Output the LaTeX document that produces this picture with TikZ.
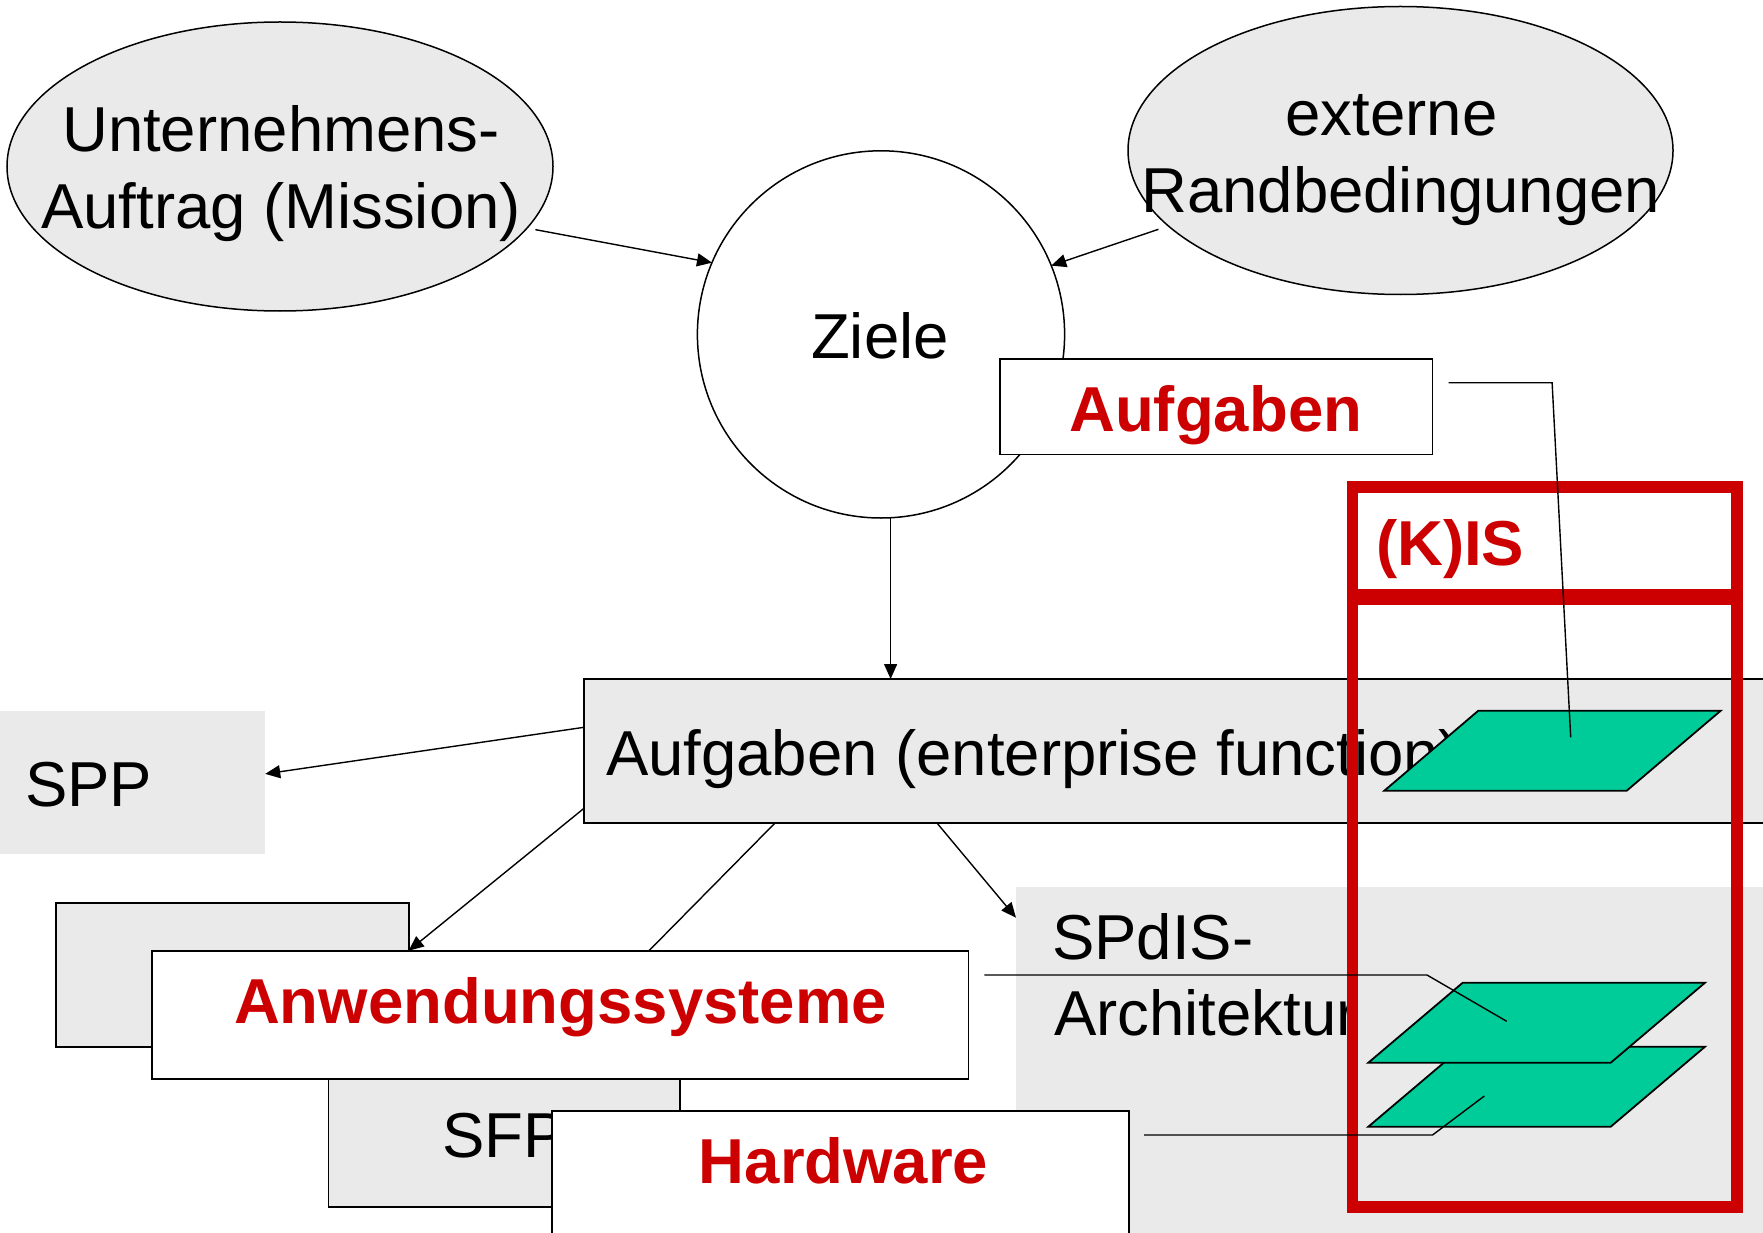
\documentclass[tikz,border=0pt]{standalone}
\usepackage{fontspec}
\setmainfont{Liberation Sans}
\usetikzlibrary{shapes.geometric,arrows.meta}
\definecolor{panelgray}{HTML}{EAEAEA}
\definecolor{kisred}{HTML}{CC0000}
\definecolor{layergreen}{HTML}{00CC99}

\begin{document}
\begin{tikzpicture}[x=1pt,y=-1pt,
  every node/.style={inner sep=0pt, outer sep=0pt},
  txt/.style={font=\fontsize{63.5}{76}\selectfont},
  hot/.style={font=\fontsize{63.5}{76}\selectfont\bfseries, text=kisred},
  bubble/.style={ellipse, draw, line width=1.5pt, fill=panelgray},
  goal/.style={circle, draw, line width=1.5pt, fill=white},
  plainbox/.style={rectangle, draw, line width=1.8pt, fill=white},
  graybox/.style={rectangle, draw, line width=1.8pt, fill=panelgray},
  grayarea/.style={rectangle, fill=panelgray},
  kisframe/.style={rectangle, draw=kisred, line width=11.7pt},
  layer/.style={draw, line width=1.8pt, fill=layergreen},
  arr/.style={line width=1.4pt, -{Triangle[length=15pt,width=13pt]}},
  linkline/.style={line width=1.4pt}
]
\useasboundingbox (0,0) rectangle (1763,1233);
\clip (0,0) rectangle (1763,1233);

% strategic planning box on the left
\node[grayarea, minimum width=275.2pt, minimum height=143.4pt] (spp) at (127.6,782.7) {};
\node[txt, anchor=base west] (sppT) at (25,806.4) {SPP};

% mission and external constraints
\node[bubble, minimum width=546pt, minimum height=289pt] (mission) at (280,166.5) {};
\node[txt, anchor=base] (missionA) at (281,152) {Unternehmens-};
\node[txt, anchor=base] (missionB) at (281,229) {Auftrag (Mission)};

\node[bubble, minimum width=545pt, minimum height=288pt] (extern) at (1400.5,150.5) {};
\node[txt, anchor=base] (externA) at (1391.5,136) {externe};
\node[txt, anchor=base] (externB) at (1400.8,212.5) {Randbedingungen};

% goals
\node[goal, minimum size=367.2pt] (ziele) at (881,334.4) {};
\node[txt, anchor=base] (zieleT) at (880,358.7) {Ziele};

\node[plainbox, minimum width=432.5pt, minimum height=95.8pt] (aufg) at (1216.25,406.6) {};
\node[hot, anchor=base] (aufgT) at (1215.7,431) {Aufgaben};

% enterprise functions
\node[graybox, minimum width=1216pt, minimum height=143.7pt] (funk) at (1192,750.85) {};
\node[txt, anchor=base west] (funkT) at (606,775) {Aufgaben (enterprise function)};

% architecture area
\node[grayarea, minimum width=784pt, minimum height=413.3pt] (spdis) at (1408,1093.35) {};
\node[txt, anchor=base west] (spdisA) at (1052,959) {SPdIS-};
\node[txt, anchor=base west] (spdisB) at (1054,1035) {Architektur};

% stacked system boxes
\node[graybox, minimum width=352.4pt, minimum height=144.3pt] (asback) at (232.5,974.85) {};
\node[graybox, minimum width=351.9pt, minimum height=144pt] (sfp) at (504.35,1135) {};
\node[txt, anchor=base west] (sfpT) at (442,1157.7) {SFP};
\node[plainbox, minimum width=816.2pt, minimum height=128.3pt] (anw) at (560.4,1014.85) {};
\node[hot, anchor=base] (anwT) at (560.5,1023.3) {Anwendungssysteme};
\node[plainbox, minimum width=576.8pt, minimum height=189.2pt] (hw) at (840.6,1205.4) {};
\node[hot, anchor=base] (hwT) at (843.6,1183) {Hardware};

% layers of the information system
\draw[layer] (1368.3,1126.7) -- (1462.7,1046.7) -- (1705,1046.7) -- (1610.7,1126.7) -- cycle;
\draw[layer] (1368.3,1062.7) -- (1462.7,982.7) -- (1705,982.7) -- (1610.7,1062.7) -- cycle;
\draw[layer] (1384.3,790.7) -- (1478.3,710.7) -- (1720.7,710.7) -- (1626.7,790.7) -- cycle;
\coordinate (topEnd) at (1570.7,737.3);
\coordinate (midEnd) at (1506.7,1021.3);
\coordinate (lowEnd) at (1484.3,1096);

% (K)IS frame
\node[kisframe, minimum width=384.2pt, minimum height=107.8pt] (kisHead) at (1544.6,540.7) {};
\node[kisframe, minimum width=384.2pt, minimum height=607.7pt] (kisBody) at (1544.6,902.85) {};
\node[hot, anchor=base west] (kisT) at (1376,565) {(K)IS};

% arrows
\draw[arr, shorten <=8.6pt] (mission.-14) -- (ziele.157.3);
\draw[arr, shorten <=10.5pt] (extern.198.4) -- (ziele.22.5);
\draw[arr] (ziele.-87.7) -- (ziele.-87.7 |- funk.north);
\draw[arr] ([yshift=23.55pt]funk.west) -- ([yshift=8.8pt]spp.east);
\draw[arr] ([yshift=-57.45pt]funk.west) -- (asback.east |- anw.north);
\draw[linkline] ([xshift=191.3pt]funk.south west) -- ([xshift=496.7pt]anw.north west);
\draw[arr] ([xshift=352.7pt]funk.south west) -- ([yshift=-31pt]spdis.north west);

% links into the layers
\draw[linkline] ([shift={(16pt,23.9pt)}]aufg.east) -- ++(103.6,0) -- (topEnd);
\draw[linkline] ([shift={(15.8pt,39.85pt)}]anw.east) -- ++(442.7,0) -- (midEnd);
\draw[linkline] ([shift={(15pt,70.4pt)}]hw.east) -- ++(288.5,0) -- (lowEnd);
\end{tikzpicture}
\end{document}
